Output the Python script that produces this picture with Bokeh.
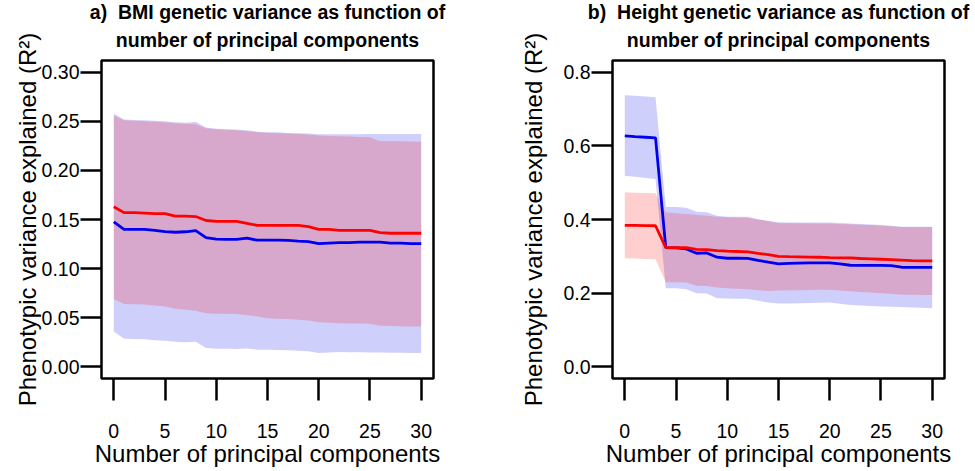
from bokeh.plotting import figure
from bokeh.layouts import row
from bokeh.models import FixedTicker, PrintfTickFormatter, Range1d, Title
from bokeh.embed import file_html
from bokeh.resources import INLINE

# ---------------- data ----------------
n_pcs = list(range(31))
x_ticks = [0, 5, 10, 15, 20, 25, 30]

# Panel a: BMI
bmi_y_ticks = [0.00, 0.05, 0.10, 0.15, 0.20, 0.25, 0.30]
bmi_red_mean = [0.163, 0.157, 0.157, 0.1565, 0.156, 0.156, 0.1535, 0.1535, 0.153, 0.149,
                0.148, 0.148, 0.148, 0.146, 0.144, 0.144, 0.144, 0.144, 0.144, 0.1428,
                0.140, 0.140, 0.139, 0.139, 0.139, 0.139, 0.1367, 0.136, 0.136, 0.136, 0.136]
bmi_red_hi = [0.256, 0.251, 0.2505, 0.250, 0.2495, 0.249, 0.248, 0.2475, 0.247, 0.243,
              0.242, 0.2415, 0.241, 0.240, 0.239, 0.2385, 0.238, 0.2375, 0.237, 0.2365,
              0.2355, 0.235, 0.2348, 0.2345, 0.234, 0.2337, 0.2298, 0.2297, 0.2296, 0.2295, 0.2293]
bmi_red_lo = [0.0688, 0.0638, 0.0637, 0.0635, 0.0625, 0.0614, 0.059, 0.058, 0.057, 0.0546,
              0.054, 0.054, 0.0538, 0.0525, 0.0512, 0.0495, 0.049, 0.0485, 0.0478, 0.047,
              0.0454, 0.0448, 0.0444, 0.044, 0.044, 0.0437, 0.0417, 0.0415, 0.0413, 0.0411, 0.041]
bmi_blue_mean = [0.1475, 0.140, 0.140, 0.140, 0.139, 0.1377, 0.137, 0.1375, 0.1387, 0.1316,
                 0.130, 0.1297, 0.1297, 0.131, 0.1289, 0.129, 0.129, 0.1288, 0.128, 0.1275,
                 0.1255, 0.126, 0.1265, 0.1265, 0.127, 0.127, 0.127, 0.126, 0.126, 0.1255, 0.1255]
bmi_blue_hi = [0.258, 0.252, 0.2515, 0.251, 0.2505, 0.250, 0.249, 0.2485, 0.2495, 0.2438,
               0.2425, 0.242, 0.2418, 0.241, 0.2394, 0.239, 0.2388, 0.2382, 0.238, 0.2375,
               0.2368, 0.2368, 0.2368, 0.2368, 0.2368, 0.237, 0.237, 0.237, 0.237, 0.237, 0.237]
bmi_blue_lo = [0.036, 0.0285, 0.0283, 0.028, 0.027, 0.0264, 0.0255, 0.025, 0.0255, 0.019,
               0.0183, 0.0182, 0.018, 0.0185, 0.0173, 0.0173, 0.017, 0.0167, 0.0163, 0.0158,
               0.0139, 0.0145, 0.015, 0.0148, 0.0147, 0.0146, 0.0145, 0.0143, 0.0142, 0.0141, 0.014]

# Panel b: Height
ht_y_ticks = [0.0, 0.2, 0.4, 0.6, 0.8]
ht_red_mean = [0.384, 0.384, 0.3835, 0.383, 0.3236, 0.3236, 0.3236, 0.319, 0.318, 0.3155,
               0.314, 0.313, 0.312, 0.308, 0.3046, 0.300, 0.299, 0.2985, 0.298, 0.2975,
               0.2965, 0.296, 0.2955, 0.294, 0.293, 0.292, 0.291, 0.2895, 0.288, 0.2875, 0.2875]
ht_red_hi = [0.474, 0.473, 0.472, 0.471, 0.4195, 0.417, 0.415, 0.413, 0.41, 0.4076,
             0.406, 0.4055, 0.405, 0.40, 0.396, 0.39, 0.3898, 0.3895, 0.389, 0.389,
             0.389, 0.388, 0.387, 0.386, 0.385, 0.384, 0.382, 0.3795, 0.3795, 0.3795, 0.3795]
ht_red_lo = [0.2947, 0.294, 0.293, 0.292, 0.2297, 0.2297, 0.229, 0.2197, 0.219, 0.215,
             0.2135, 0.212, 0.2107, 0.208, 0.206, 0.207, 0.2075, 0.208, 0.2085, 0.2088,
             0.2088, 0.207, 0.205, 0.203, 0.2015, 0.1998, 0.198, 0.1953, 0.1953, 0.195, 0.195]
ht_blue_mean = [0.627, 0.625, 0.6235, 0.622, 0.3236, 0.323, 0.320, 0.3083, 0.3092, 0.2975,
                0.2947, 0.2947, 0.2945, 0.289, 0.284, 0.2795, 0.281, 0.2815, 0.282, 0.282,
                0.282, 0.2795, 0.2757, 0.2755, 0.2753, 0.2752, 0.2745, 0.2703, 0.270, 0.270, 0.270]
ht_blue_hi = [0.7376, 0.736, 0.734, 0.732, 0.434, 0.434, 0.432, 0.421, 0.42, 0.41,
              0.4076, 0.4076, 0.4076, 0.401, 0.396, 0.3923, 0.392, 0.392, 0.392, 0.392,
              0.392, 0.3905, 0.389, 0.388, 0.3865, 0.385, 0.383, 0.3805, 0.3805, 0.3805, 0.3805]
ht_blue_lo = [0.519, 0.516, 0.513, 0.51, 0.2133, 0.2133, 0.2107, 0.1998, 0.199, 0.186,
              0.1852, 0.1848, 0.1844, 0.179, 0.1744, 0.1717, 0.172, 0.1725, 0.173, 0.174,
              0.1744, 0.171, 0.168, 0.1665, 0.165, 0.1636, 0.163, 0.162, 0.161, 0.16, 0.159]

FONT = "Liberation Sans"
RED = "#ff0000"
BLUE = "#0000ee"
X_LABEL = "Number of principal components"
Y_LABEL = "Phenotypic variance explained (R²)"


def make_panel(title1, title2, y_ticks, y_fmt, y_end, red, blue, width, left_border,
               ylab_standoff):
    red_mean, red_lo, red_hi = red
    blue_mean, blue_lo, blue_hi = blue
    frame_w, frame_h, top = 332, 318, 60
    height = 471
    pad_y = 0.04 * y_end
    p = figure(width=width, height=height, output_backend="svg", toolbar_location=None,
               x_range=Range1d(-1.2, 31.2), y_range=Range1d(-pad_y, y_end + pad_y),
               min_border_left=left_border, min_border_right=width - left_border - frame_w,
               min_border_top=top, min_border_bottom=height - top - frame_h,
               title=None)
    p.background_fill_color = "white"
    p.border_fill_color = "white"
    p.outline_line_color = "black"
    p.outline_line_width = 2.5
    p.xgrid.visible = False
    p.ygrid.visible = False

    p.varea(x=n_pcs, y1=blue_lo, y2=blue_hi, fill_color=BLUE, fill_alpha=0.19)
    p.varea(x=n_pcs, y1=red_lo, y2=red_hi, fill_color=RED, fill_alpha=0.19)
    p.line(n_pcs, blue_mean, line_color=BLUE, line_width=2.8)
    p.line(n_pcs, red_mean, line_color=RED, line_width=2.8)

    xa = p.xaxis[0]
    xa.ticker = FixedTicker(ticks=x_ticks)
    xa.axis_line_color = None
    xa.major_tick_in = 0
    xa.major_tick_out = 22
    xa.major_tick_line_width = 2.5
    xa.major_tick_line_color = "black"
    xa.minor_tick_line_color = None
    xa.major_label_text_font = FONT
    xa.major_label_text_font_size = "19.5px"
    xa.major_label_text_color = "black"
    xa.major_label_standoff = 23
    xa.axis_label = X_LABEL
    xa.axis_label_text_font = FONT
    xa.axis_label_text_font_size = "24px"
    xa.axis_label_text_font_style = "normal"
    xa.axis_label_text_color = "black"
    xa.axis_label_standoff = -1

    ya = p.yaxis[0]
    ya.ticker = FixedTicker(ticks=y_ticks)
    ya.formatter = PrintfTickFormatter(format=y_fmt)
    ya.axis_line_color = None
    ya.major_tick_in = 0
    ya.major_tick_out = 21
    ya.major_tick_line_width = 2.5
    ya.major_tick_line_color = "black"
    ya.minor_tick_line_color = None
    ya.major_label_text_font = FONT
    ya.major_label_text_font_size = "19.5px"
    ya.major_label_text_color = "black"
    ya.major_label_standoff = 1
    ya.axis_label = Y_LABEL
    ya.axis_label_text_font = FONT
    ya.axis_label_text_font_size = "24px"
    ya.axis_label_text_font_style = "normal"
    ya.axis_label_text_color = "black"
    ya.axis_label_standoff = ylab_standoff

    p.add_layout(Title(text=title2, align="center", text_font=FONT, text_font_size="19.5px",
                       text_font_style="bold", text_color="black", standoff=19), "above")
    p.add_layout(Title(text=title1, align="center", text_font=FONT, text_font_size="19.5px",
                       text_font_style="bold", text_color="black", standoff=-10), "above")
    return p


pa = make_panel("a)\u00a0 BMI genetic variance as function of", "number of principal components",
                bmi_y_ticks, "%.2f", 0.30,
                (bmi_red_mean, bmi_red_lo, bmi_red_hi),
                (bmi_blue_mean, bmi_blue_lo, bmi_blue_hi),
                width=480, left_border=101, ylab_standoff=-2)
pb = make_panel("b)\u00a0 Height genetic variance as function of", "number of principal components",
                ht_y_ticks, "%.1f", 0.80,
                (ht_red_mean, ht_red_lo, ht_red_hi),
                (ht_blue_mean, ht_blue_lo, ht_blue_hi),
                width=495, left_border=132, ylab_standoff=13)

layout = row(pa, pb, spacing=0)
open("out.html", "w").write(file_html(layout, INLINE))
